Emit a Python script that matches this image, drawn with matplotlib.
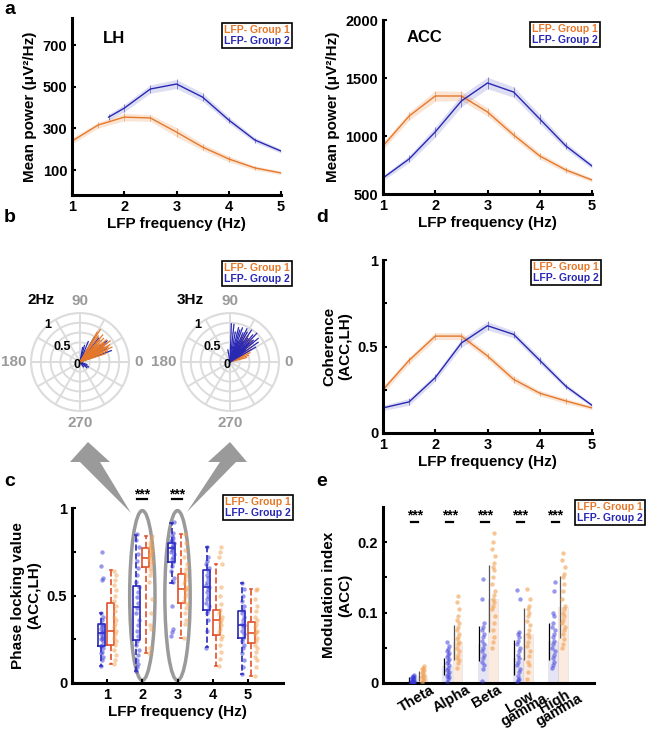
import numpy as np
import matplotlib
matplotlib.use("Agg")
import matplotlib.pyplot as plt
from matplotlib.patches import Ellipse, Polygon

plt.rcParams['font.family'] = ['Liberation Sans', 'DejaVu Sans']
plt.rcParams['font.weight'] = 'bold'
plt.rcParams['axes.labelweight'] = 'bold'

ORANGE = '#E6782A'
BLUE = '#2828B4'
BOX_OR = '#E0502A'
DOT_OR = '#F2A050'
DOT_BL = '#3535D8'
LABELS = ['LFP- Group 1', 'LFP- Group 2']

# ---- panel a: mean power ----
freq = [1, 1.5, 2, 2.5, 3, 3.5, 4, 4.5, 5]
lh_freq_g2 = [1.7, 2, 2.5, 3, 3.5, 4, 4.5, 5]
lh_g1 = [239, 316, 354, 350, 282, 210, 153, 110, 86]
lh_g1_sem = [14, 14, 18, 16, 22, 16, 14, 10, 8]
lh_g2 = [354, 397, 489, 513, 450, 340, 244, 191]
lh_g2_sem = [14, 18, 20, 22, 20, 16, 12, 10]
acc_g1 = [914, 1172, 1345, 1345, 1207, 1009, 828, 707, 621]
acc_g1_sem = [30, 35, 45, 40, 35, 30, 28, 22, 18]
acc_g2 = [638, 802, 1035, 1302, 1457, 1379, 1147, 914, 741]
acc_g2_sem = [22, 30, 45, 50, 50, 45, 40, 30, 22]

# ---- panel d: coherence ----
coh_g1 = [0.25, 0.42, 0.56, 0.56, 0.445, 0.31, 0.23, 0.185, 0.145]
coh_g1_sem = [0.02, 0.02, 0.02, 0.02, 0.02, 0.02, 0.015, 0.015, 0.01]
coh_g2 = [0.145, 0.18, 0.32, 0.52, 0.62, 0.57, 0.42, 0.27, 0.16]
coh_g2_sem = [0.015, 0.02, 0.02, 0.025, 0.025, 0.02, 0.02, 0.015, 0.01]

# ---- panel b: phase vectors (angle deg, length) ----
p2_g1_ang = [18, 22, 25, 28, 30, 32, 35, 38, 40, 42, 45, 48, 50, 55, 58, 60, 25, 35, 30, 40]
p2_g1_len = [0.55, 0.6, 0.72, 0.65, 0.7, 0.58, 0.75, 0.62, 0.7, 0.55, 0.68, 0.6, 0.72, 0.65, 0.78, 0.7, 0.5, 0.66, 0.45, 0.52]
p2_g2_ang = [20, 27, 33, 38, 45, 52, 60, 68, 75, 80, -20, -30, -40, -55, 35, 47]
p2_g2_len = [0.68, 0.6, 0.55, 0.7, 0.5, 0.62, 0.58, 0.45, 0.35, 0.3, 0.15, 0.2, 0.18, 0.12, 0.66, 0.4]
p3_g1_ang = [15, 20, 25, 30, 35, 40, 45, 50, 55, 60, 65, 28, 42]
p3_g1_len = [0.35, 0.4, 0.45, 0.5, 0.55, 0.6, 0.62, 0.58, 0.65, 0.6, 0.55, 0.3, 0.48]
p3_g2_ang = [30, 35, 40, 43, 47, 50, 53, 56, 60, 63, 66, 70, 73, 76, 80, 84, 88, 100, 45, 58, 68, 38]
p3_g2_len = [0.6, 0.7, 0.75, 0.65, 0.8, 0.72, 0.6, 0.78, 0.7, 0.76, 0.65, 0.74, 0.68, 0.72, 0.62, 0.77, 0.78, 0.25, 0.55, 0.5, 0.45, 0.4]

# ---- panel c: phase locking value ----
plv_freqs = [1, 2, 3, 4, 5]
plv_g2_box = [  # whislo, q1, med, q3, whishi
    [0.10, 0.21, 0.285, 0.34, 0.40],
    [0.07, 0.245, 0.435, 0.555, 0.845],
    [0.57, 0.69, 0.77, 0.80, 0.915],
    [0.205, 0.415, 0.55, 0.645, 0.78],
    [0.05, 0.26, 0.33, 0.41, 0.57],
]
plv_g1_box = [
    [0.11, 0.215, 0.30, 0.46, 0.645],
    [0.17, 0.665, 0.715, 0.77, 0.84],
    [0.26, 0.455, 0.54, 0.625, 0.85],
    [0.10, 0.275, 0.36, 0.42, 0.68],
    [0.04, 0.23, 0.285, 0.35, 0.54],
]
plv_g2_pts = [
    [0.10, 0.13, 0.15, 0.17, 0.18, 0.20, 0.21, 0.22, 0.24, 0.25, 0.26, 0.27, 0.28, 0.29, 0.30, 0.31, 0.32, 0.33, 0.34, 0.36, 0.38, 0.40, 0.59, 0.60, 0.67, 0.75],
    [0.07, 0.09, 0.11, 0.13, 0.16, 0.19, 0.22, 0.24, 0.27, 0.30, 0.33, 0.36, 0.40, 0.43, 0.46, 0.49, 0.52, 0.55, 0.58, 0.62, 0.66, 0.70, 0.74, 0.78, 0.82, 0.85],
    [0.27, 0.29, 0.31, 0.44, 0.58, 0.60, 0.64, 0.67, 0.69, 0.71, 0.72, 0.74, 0.75, 0.76, 0.77, 0.78, 0.79, 0.80, 0.81, 0.82, 0.83, 0.84, 0.86, 0.92],
    [0.20, 0.30, 0.36, 0.40, 0.42, 0.44, 0.46, 0.48, 0.50, 0.52, 0.54, 0.55, 0.56, 0.58, 0.60, 0.62, 0.64, 0.66, 0.68, 0.70, 0.72, 0.78],
    [0.05, 0.09, 0.13, 0.17, 0.20, 0.22, 0.24, 0.26, 0.28, 0.30, 0.32, 0.33, 0.34, 0.36, 0.38, 0.40, 0.42, 0.44, 0.47, 0.50, 0.54, 0.57],
]
plv_g1_pts = [
    [0.11, 0.13, 0.16, 0.19, 0.22, 0.24, 0.26, 0.28, 0.30, 0.32, 0.34, 0.36, 0.38, 0.41, 0.44, 0.47, 0.50, 0.53, 0.56, 0.59, 0.62, 0.64],
    [0.17, 0.20, 0.31, 0.33, 0.40, 0.48, 0.58, 0.62, 0.64, 0.66, 0.68, 0.70, 0.71, 0.72, 0.73, 0.74, 0.75, 0.76, 0.77, 0.78, 0.79, 0.80, 0.82, 0.84],
    [0.26, 0.34, 0.36, 0.40, 0.43, 0.45, 0.47, 0.49, 0.51, 0.53, 0.54, 0.55, 0.57, 0.59, 0.61, 0.63, 0.65, 0.68, 0.72, 0.76, 0.80, 0.85],
    [0.10, 0.14, 0.18, 0.22, 0.25, 0.27, 0.29, 0.31, 0.33, 0.35, 0.36, 0.38, 0.40, 0.42, 0.45, 0.50, 0.55, 0.68, 0.72, 0.75, 0.78],
    [0.04, 0.09, 0.13, 0.15, 0.18, 0.20, 0.22, 0.24, 0.26, 0.28, 0.29, 0.30, 0.32, 0.34, 0.36, 0.38, 0.41, 0.44, 0.48, 0.53, 0.54],
]

# ---- panel e: modulation index ----
bands = ['Theta', 'Alpha', 'Beta', 'Low\ngamma', 'High\ngamma']
mi_g2_mean = [0.003, 0.024, 0.056, 0.036, 0.059]
mi_g2_sd = [0.005, 0.012, 0.025, 0.025, 0.026]
mi_g1_mean = [0.010, 0.058, 0.120, 0.070, 0.108]
mi_g1_sd = [0.007, 0.025, 0.047, 0.037, 0.044]
mi_g2_pts = [
    [0.0, 0.001, 0.002, 0.003, 0.004, 0.005, 0.006, 0.007, 0.008, 0.009, 0.010, 0.011, 0.001, 0.002, 0.003],
    [0.002, 0.005, 0.008, 0.010, 0.013, 0.016, 0.019, 0.022, 0.025, 0.028, 0.031, 0.034, 0.037, 0.040, 0.043, 0.046, 0.049, 0.052, 0.058],
    [0.003, 0.02, 0.025, 0.030, 0.035, 0.040, 0.045, 0.050, 0.055, 0.060, 0.065, 0.070, 0.075, 0.080, 0.085, 0.12, 0.148],
    [0.002, 0.004, 0.006, 0.010, 0.015, 0.020, 0.025, 0.030, 0.035, 0.040, 0.045, 0.050, 0.055, 0.060, 0.065, 0.070, 0.073, 0.12, 0.132],
    [0.022, 0.025, 0.030, 0.035, 0.040, 0.045, 0.050, 0.055, 0.060, 0.065, 0.070, 0.075, 0.080, 0.085, 0.095, 0.10, 0.13, 0.144],
]
mi_g1_pts = [
    [0.002, 0.004, 0.006, 0.008, 0.010, 0.012, 0.014, 0.016, 0.018, 0.020, 0.022, 0.024],
    [0.022, 0.028, 0.032, 0.036, 0.040, 0.045, 0.050, 0.055, 0.058, 0.062, 0.066, 0.070, 0.075, 0.080, 0.085, 0.090, 0.095, 0.105, 0.115, 0.123],
    [0.05, 0.058, 0.065, 0.075, 0.085, 0.095, 0.105, 0.11, 0.115, 0.12, 0.125, 0.13, 0.14, 0.15, 0.16, 0.165, 0.17, 0.18, 0.19, 0.20, 0.213],
    [0.005, 0.015, 0.025, 0.030, 0.038, 0.045, 0.052, 0.058, 0.065, 0.070, 0.075, 0.082, 0.088, 0.095, 0.100, 0.105, 0.110, 0.120, 0.133],
    [0.05, 0.056, 0.062, 0.07, 0.075, 0.08, 0.085, 0.09, 0.095, 0.10, 0.105, 0.11, 0.12, 0.13, 0.14, 0.15, 0.155, 0.165, 0.175, 0.185],
]

W, H = 650, 729
fig = plt.figure(figsize=(W / 100, H / 100), dpi=100)


def px_rect(left, top, right, bottom):
    return [left / W, 1 - bottom / H, (right - left) / W, (bottom - top) / H]


def style(ax):
    for s in ['top', 'right']:
        ax.spines[s].set_visible(False)
    for s in ['left', 'bottom']:
        ax.spines[s].set_linewidth(2.2)
    ax.tick_params(direction='in', width=1.5, length=3, labelsize=10.5)
    ax.tick_params(which='minor', direction='in', width=1.5, length=3)


def group_legend(x, y):
    h = [plt.Line2D([], [], color='none'), plt.Line2D([], [], color='none')]
    leg = fig.legend(h, LABELS, loc='upper left', bbox_to_anchor=(x / W, 1 - y / H),
                     handlelength=0, handletextpad=0, borderpad=0.2, labelspacing=0.05,
                     borderaxespad=0, fancybox=False, edgecolor='black', framealpha=1,
                     labelcolor=[ORANGE, BLUE], prop={'size': 7.5, 'weight': 'bold'})
    leg.get_frame().set_linewidth(1.2)


def curve(ax, x, y, sem, color, band_alpha):
    y = np.array(y)
    sem = np.array(sem)
    ax.fill_between(x, y - sem, y + sem, color=color, alpha=band_alpha, lw=0)
    ax.plot(x, y, color=color, lw=1)
    ax.errorbar(x, y, yerr=sem, fmt='none', ecolor=color, elinewidth=0.6, alpha=0.6, capsize=0)


XLAB = 11

# a - LH
ax = fig.add_axes(px_rect(72, 18, 281, 195))
curve(ax, freq, lh_g1, lh_g1_sem, ORANGE, 0.2)
curve(ax, lh_freq_g2, lh_g2, lh_g2_sem, BLUE, 0.15)
ax.set_xlim(1, 5)
ax.set_ylim(-20, 830)
ax.set_yticks([100, 300, 500, 700])
ax.set_xticks([1, 2, 3, 4, 5])
ax.set_xlabel('LFP frequency (Hz)', fontsize=XLAB, labelpad=2)
ax.set_ylabel('Mean power (μV²/Hz)', fontsize=XLAB)
ax.text(1.6, 730, 'LH', fontsize=12, va='center')
style(ax)
group_legend(222, 23)

# a - ACC
ax = fig.add_axes(px_rect(383, 20, 592, 194))
curve(ax, freq, acc_g1, acc_g1_sem, ORANGE, 0.2)
curve(ax, freq, acc_g2, acc_g2_sem, BLUE, 0.15)
ax.set_xlim(1, 5)
ax.set_ylim(500, 2000)
ax.set_yticks([500, 1000, 1500, 2000])
ax.set_xticks([1, 2, 3, 4, 5])
ax.set_xlabel('LFP frequency (Hz)', fontsize=XLAB, labelpad=2)
ax.set_ylabel('Mean power (μV²/Hz)', fontsize=XLAB)
ax.text(1.45, 1850, 'ACC', fontsize=12, va='center')
style(ax)
group_legend(530, 22)

# b - polar plots
polar_sets = [
    ('2Hz', 80, [(p2_g2_ang, p2_g2_len, BLUE), (p2_g1_ang, p2_g1_len, ORANGE)]),
    ('3Hz', 230, [(p3_g1_ang, p3_g1_len, ORANGE), (p3_g2_ang, p3_g2_len, BLUE)]),
]
for title, cx, groups in polar_sets:
    r = 49
    ax = fig.add_axes(px_rect(cx - r, 362 - r, cx + r, 362 + r), projection='polar')
    for ang, ln, col in groups:
        for a, l in zip(ang, ln):
            th = np.deg2rad(a)
            ax.plot([th, th], [0, l], color=col, lw=0.9)
    ax.set_ylim(0, 1)
    ax.set_yticks([0.2, 0.4, 0.6, 0.8, 1.0])
    ax.set_yticklabels([])
    ax.set_xticks(np.deg2rad(np.arange(0, 360, 30)))
    ax.set_xticklabels([])
    ax.grid(color='#dcdcdc', lw=1.4)
    ax.spines['polar'].set_color('#dcdcdc')
    ax.spines['polar'].set_linewidth(1.4)
    for deg, txt, ha, va in [(0, '0', 'left', 'center'), (90, '90', 'center', 'bottom'),
                             (180, '180', 'right', 'center'), (270, '270', 'center', 'top')]:
        ax.text(np.deg2rad(deg), 1.1, txt, color='#9a9a9a', fontsize=11,
                ha=ha, va=va)
    for ang, rr, txt in [(225, 0.08, '0'), (140, 0.48, '0.5'), (131, 1.0, '1')]:
        ax.text(np.deg2rad(ang), rr, txt, fontsize=9, ha='center', va='center')
    fig.text((cx - 53) / W, 1 - 300 / H, title, fontsize=11, va='center')
group_legend(222, 261)

# d - coherence
ax = fig.add_axes(px_rect(383, 260, 592, 433))
curve(ax, freq, coh_g1, coh_g1_sem, ORANGE, 0.2)
curve(ax, freq, coh_g2, coh_g2_sem, BLUE, 0.15)
ax.set_xlim(1, 5)
ax.set_ylim(0, 1)
ax.set_yticks([0, 0.5, 1])
ax.set_yticklabels(['0', '0.5', '1'])
ax.set_yticks([0.25, 0.75], minor=True)
ax.set_xticks([1, 2, 3, 4, 5])
ax.set_xlabel('LFP frequency (Hz)', fontsize=XLAB, labelpad=2)
ax.set_ylabel('Coherence\n(ACC,LH)', fontsize=XLAB)
style(ax)
group_legend(531, 260)

# c - phase locking value
ax = fig.add_axes(px_rect(72, 508, 283, 683))
off_g2, off_g1 = -0.17, 0.10
jitter = [0.0, 0.03, 0.06, 0.015, 0.045, 0.075]
for i, f in enumerate(plv_freqs):
    for boxes, pts, off, bcol, dcol, doff in [
            (plv_g2_box, plv_g2_pts, off_g2, BLUE, DOT_BL, 0.02),
            (plv_g1_box, plv_g1_pts, off_g1, BOX_OR, DOT_OR, 0.12)]:
        lo, q1, med, q3, hi = boxes[i]
        stats = [dict(whislo=lo, q1=q1, med=med, q3=q3, whishi=hi, fliers=[])]
        ax.bxp(stats, positions=[f + off], widths=0.2, showfliers=False, manage_ticks=False,
               boxprops=dict(color=bcol, lw=1.2), medianprops=dict(color=bcol, lw=1.2),
               whiskerprops=dict(color=bcol, lw=1.2, ls='--'),
               capprops=dict(color=bcol, lw=1.2), capwidths=0.06)
        xs = [f + off + doff + jitter[k % len(jitter)] - 0.03 for k in range(len(pts[i]))]
        ax.scatter(xs, pts[i], s=10, color=dcol, alpha=0.5, lw=0, zorder=3)
for f in [2, 3]:
    ax.add_patch(Ellipse((f, 0.5), 0.72, 0.97, fill=False, ec='#9a9a9a', lw=2.5, clip_on=False))
    ax.text(f - 0.02, 1.075, '***', ha='center', va='center', fontsize=10, clip_on=False)
    ax.plot([f - 0.15, f + 0.12], [1.05, 1.05], color='black', lw=1.6, clip_on=False)
ax.set_xlim(0, 6)
ax.set_ylim(0, 1)
ax.set_xticks(plv_freqs)
ax.set_xticklabels([str(f) for f in plv_freqs])
ax.set_yticks([0, 0.5, 1])
ax.set_yticklabels(['0', '0.5', '1'])
ax.set_yticks([0.25, 0.75], minor=True)
ax.set_xlabel('LFP frequency (Hz)', fontsize=XLAB, labelpad=2)
ax.set_ylabel('Phase locking value\n(ACC,LH)', fontsize=XLAB)
style(ax)
group_legend(223, 495)

# arrows from the ellipses to the polar plots
for verts in [[(88, 442), (70, 462), (80, 462), (131, 513), (100, 462), (110, 462)],
              [(230, 442), (247, 462), (236, 462), (187, 512), (220, 462), (208, 462)]]:
    fig.patches.append(Polygon([(x / W, 1 - y / H) for x, y in verts], closed=True,
                               transform=fig.transFigure, fc='#9a9a9a', ec='none'))

# e - modulation index
ax = fig.add_axes(px_rect(383, 507, 594, 683))
pos = np.arange(1, len(bands) + 1)
ax.bar(pos - 0.17, mi_g2_mean, width=0.28, color=BLUE, alpha=0.12, edgecolor='#888888', lw=0.6)
ax.bar(pos + 0.12, mi_g1_mean, width=0.28, color=ORANGE, alpha=0.15, edgecolor='#888888', lw=0.6)
ax.errorbar(pos - 0.27, mi_g2_mean, yerr=mi_g2_sd, fmt='none', ecolor='black', elinewidth=0.9)
ax.errorbar(pos + 0.02, mi_g1_mean, yerr=mi_g1_sd, fmt='none', ecolor='#555555', elinewidth=0.9)
for i in range(len(bands)):
    xs2 = [pos[i] - 0.16 + jitter[k % len(jitter)] - 0.03 for k in range(len(mi_g2_pts[i]))]
    ax.scatter(xs2, mi_g2_pts[i], s=10, color=DOT_BL, alpha=0.5, lw=0, zorder=3)
    xs1 = [pos[i] + 0.13 + jitter[k % len(jitter)] - 0.03 for k in range(len(mi_g1_pts[i]))]
    ax.scatter(xs1, mi_g1_pts[i], s=10, color=DOT_OR, alpha=0.6, lw=0, zorder=3)
    ax.text(pos[i] - 0.1, 0.238, '***', ha='center', va='center', fontsize=10)
    ax.plot([pos[i] - 0.2, pos[i]], [0.229, 0.229], color='black', lw=1.6)
ax.set_xlim(0, 6)
ax.set_ylim(0, 0.25)
ax.set_xticks(pos - 0.05)
ax.set_xticklabels(bands, rotation=30, ha='center', va='top', multialignment='center',
                   fontsize=9, linespacing=0.62)
ax.set_yticks([0, 0.1, 0.2])
ax.set_yticklabels(['0', '0.1', '0.2'])
ax.set_yticks([0.05, 0.15], minor=True)
ax.set_ylabel('Modulation index\n(ACC)', fontsize=XLAB)
style(ax)
ax.tick_params(axis='x', length=0, pad=0)
group_legend(575, 500)

# panel letters
for letter, x, y in [('a', 4, 10), ('b', 4, 218), ('c', 4, 482), ('d', 316, 218), ('e', 316, 482)]:
    fig.text(x / W, 1 - y / H, letter, fontsize=14, va='center')

fig.savefig('out.png', dpi=100)
